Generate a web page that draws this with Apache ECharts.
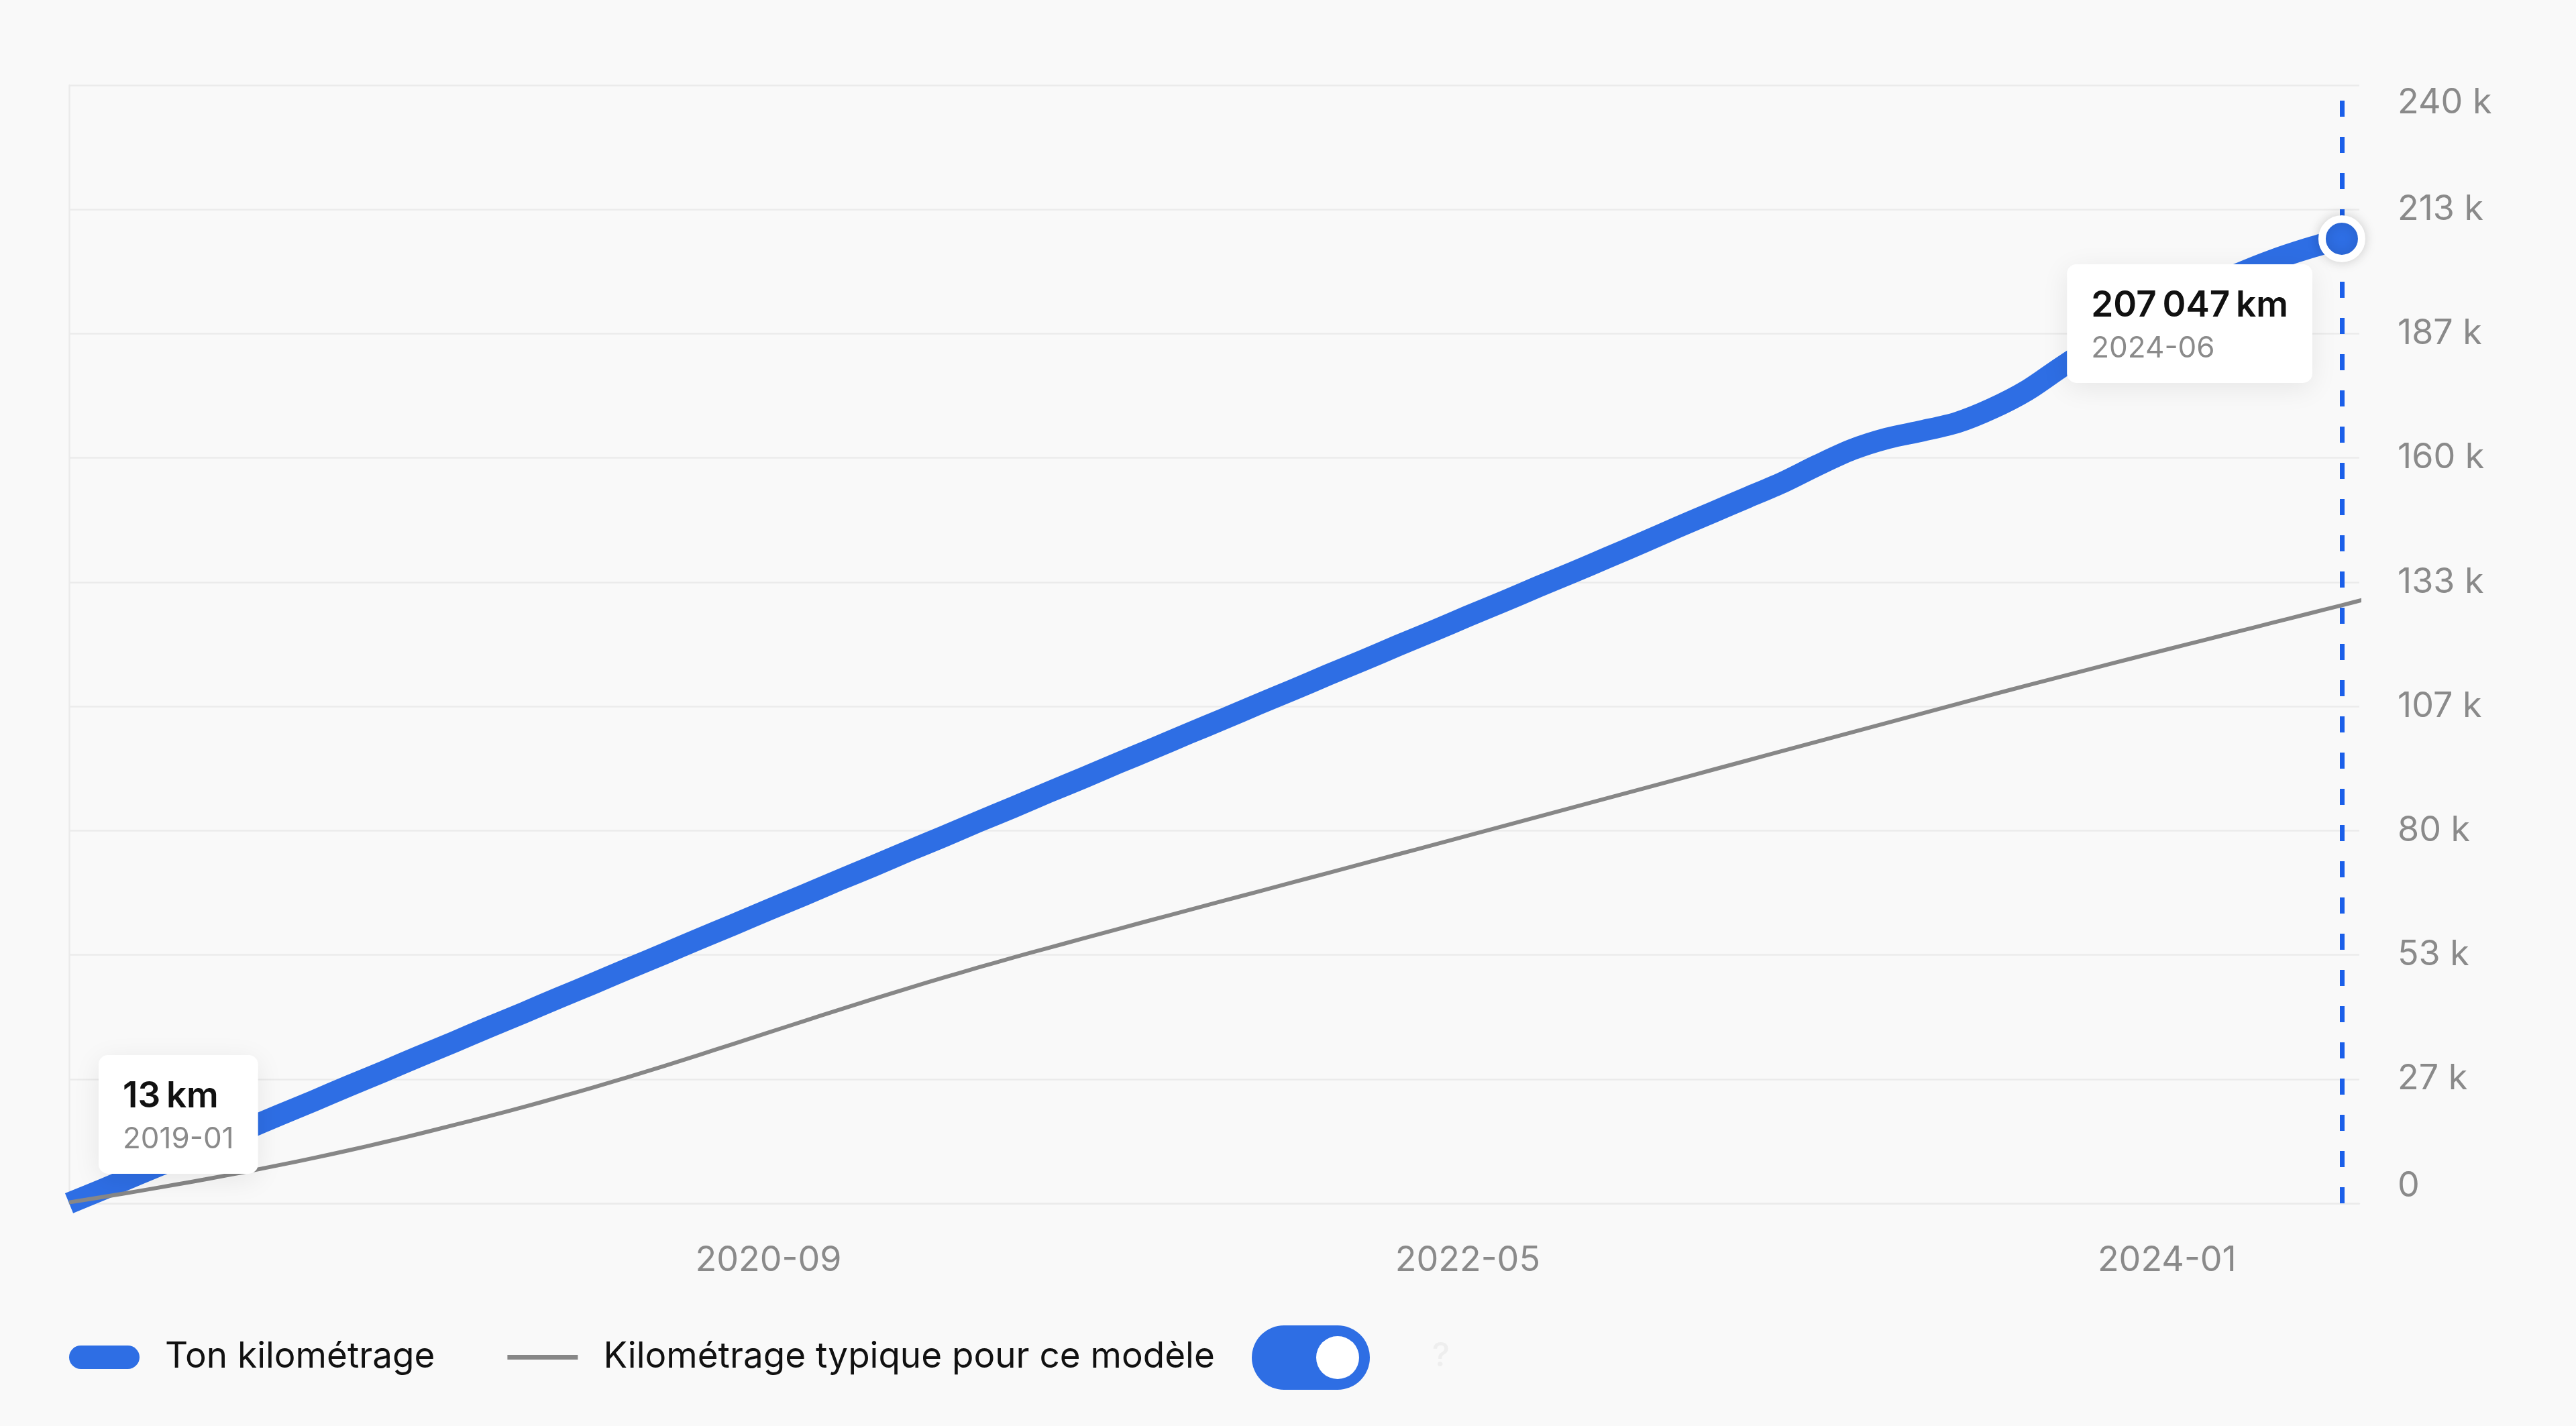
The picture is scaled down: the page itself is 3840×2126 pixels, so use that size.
<!DOCTYPE html>
<html>
<head>
<meta charset="utf-8">
<title>Kilométrage</title>
<script src="https://cdn.jsdelivr.net/npm/echarts@6/dist/echarts.min.js"></script>
<style>
  html, body { margin: 0; padding: 0; background: #f9f9f9; }
  #chart { width: 3840px; height: 2126px; }
</style>
</head>
<body>
<div id="chart"></div>
<script>
// mois (index 0 = 2019-01)
const months = [
  '2019-01', '2019-02', '2019-03', '2019-04', '2019-05', '2019-06', '2019-07', '2019-08', '2019-09', '2019-10', '2019-11', '2019-12',
  '2020-01', '2020-02', '2020-03', '2020-04', '2020-05', '2020-06', '2020-07', '2020-08', '2020-09', '2020-10', '2020-11', '2020-12',
  '2021-01', '2021-02', '2021-03', '2021-04', '2021-05', '2021-06', '2021-07', '2021-08', '2021-09', '2021-10', '2021-11', '2021-12',
  '2022-01', '2022-02', '2022-03', '2022-04', '2022-05', '2022-06', '2022-07', '2022-08', '2022-09', '2022-10', '2022-11', '2022-12',
  '2023-01', '2023-02', '2023-03', '2023-04', '2023-05', '2023-06', '2023-07', '2023-08', '2023-09', '2023-10', '2023-11', '2023-12',
  '2024-01', '2024-02', '2024-03', '2024-04', '2024-05', '2024-06', '2024-07'
];

// ton kilométrage (km), 2019-01 .. 2024-06
const myKm = [
  13, 3100, 6300, 9400, 12600, 15700, 18900, 22000, 25200, 28300, 31500, 34600,
  37800, 40900, 44100, 47200, 50400, 53500, 56700, 59800, 63000, 66100, 69300, 72400,
  75600, 78700, 81900, 85000, 88200, 91300, 94500, 97600, 100800, 103900, 107100, 110200,
  113400, 116500, 119700, 122800, 126000, 129100, 132300, 135400, 138600, 141800, 145100, 148300,
  151500, 154700, 158400, 161800, 164200, 165800, 167600, 170600, 174500, 179600, 184300, 188500,
  192400, 196000, 199400, 202400, 204900, 207047
];

// kilométrage typique pour ce modèle (km), 2019-01 .. 2024-07
const typicalKm = [
  200, 1400, 2650, 3950, 5300, 6700, 8180, 9740, 11380, 13100, 14900, 16780,
  18690, 20680, 22750, 24900, 27130, 29440, 31810, 34220, 36650, 39080, 41490, 43860,
  46170, 48420, 50610, 52740, 54810, 56840, 58880, 60900, 62900, 64900, 66900, 68900,
  70900, 72900, 74900, 76900, 78900, 80920, 82940, 84960, 86980, 89000, 91020, 93040,
  95060, 97080, 99100, 101120, 103140, 105160, 107180, 109180, 111160, 113120, 115060, 116980,
  118880, 120780, 122680, 124580, 126480, 128380, 130280
];

const xTickLabels = ['2020-09', '2022-05', '2024-01'];
const yMax = 240000;
const yStep = 26667; // 240 k / 9, arrondi

const seriesNames = ['Ton kilométrage', 'Kilométrage typique pour ce modèle'];

const BLUE = '#2e6ee4';
const DASH = '#1b5fe9';
const GREY = '#878787';
const FONT = 'Inter, "Noto Sans", sans-serif';

function fmtKm(v) {
  return Math.round(v).toLocaleString('fr-FR') + '\u202fkm';
}

const lastIdx = myKm.length - 1;

const chart = echarts.init(document.getElementById('chart'), null, { renderer: 'canvas' });

const boxLabel = {
  show: true,
  backgroundColor: '#ffffff',
  borderRadius: 14,
  padding: [29, 36, 20, 36],
  shadowBlur: 40,
  shadowColor: 'rgba(0,0,0,0.08)',
  shadowOffsetY: 8,
  opacity: 1,
  formatter: function (p) {
    return '{v|' + fmtKm(p.value[1]) + '}\n{d|' + months[p.value[0]] + '}';
  },
  rich: {
    v: { fontFamily: FONT, fontSize: 53, fontWeight: 600, color: '#111111', lineHeight: 66, align: 'left' },
    d: { fontFamily: FONT, fontSize: 44, color: '#8a8a8a', lineHeight: 62, align: 'left' }
  }
};

chart.setOption({
  backgroundColor: '#f9f9f9',
  animation: false,
  textStyle: { fontFamily: FONT },
  grid: { left: 103, right: 323, top: 127, bottom: 332 },
  xAxis: {
    type: 'value',
    min: 0,
    max: lastIdx + 0.5,
    interval: 20,
    axisLine: { show: true, lineStyle: { color: '#ebebeb', width: 2.5 } },
    axisTick: { show: false },
    splitLine: { show: false },
    axisLabel: {
      color: '#8a8a8a',
      fontSize: 52,
      fontFamily: FONT,
      margin: 59,
      showMinLabel: false,
      showMaxLabel: false,
      formatter: function (v) {
        const m = months[v];
        return xTickLabels.indexOf(m) >= 0 ? m : '';
      }
    }
  },
  yAxis: {
    type: 'value',
    position: 'right',
    min: 0,
    max: yMax,
    interval: yStep,
    axisLine: { show: true, lineStyle: { color: '#ebebeb', width: 2.5 } },
    axisTick: { show: false },
    splitLine: { show: true, lineStyle: { color: '#ebebeb', width: 2.5 } },
    axisLabel: {
      color: '#8a8a8a',
      fontSize: 52,
      fontFamily: FONT,
      margin: 57,
      verticalAlignMinLabel: 'bottom',
      verticalAlignMaxLabel: 'top',
      formatter: function (v) {
        return v === 0 ? '0' : Math.round(v / 1000) + ' k';
      }
    }
  },
  legend: {
    left: 103,
    top: 1997,
    padding: 0,
    itemWidth: 105,
    itemHeight: 35,
    itemGap: 108,
    selectedMode: false,
    textStyle: { color: '#111111', fontSize: 53, fontFamily: FONT, padding: [0, 0, 0, 33] },
    data: [
      {
        name: seriesNames[0],
        icon: 'path://M17.5,0 L87.5,0 A17.5,17.5 0 0 1 87.5,35 L17.5,35 A17.5,17.5 0 0 1 17.5,0 Z',
        itemStyle: { color: BLUE, borderWidth: 0 }
      },
      {
        name: seriesNames[1],
        icon: 'path://M0,0 L0,0 M0,35 L0,35 M0,14 L105,14 L105,21 L0,21 Z',
        itemStyle: { color: GREY, borderWidth: 0 }
      }
    ]
  },
  graphic: [
    {
      type: 'rect',
      shape: { x: 1866, y: 1976, width: 176, height: 96, r: 48 },
      style: { fill: BLUE }
    },
    {
      type: 'circle',
      shape: { cx: 1994, cy: 2024, r: 32 },
      style: { fill: '#ffffff' }
    },
    {
      type: 'text',
      x: 2148,
      y: 2022,
      style: { text: '?', fill: '#eeeeee', font: '500 50px ' + FONT, align: 'center', verticalAlign: 'middle' }
    }
  ],
  series: [
    {
      name: seriesNames[0],
      type: 'line',
      data: myKm.map(function (v, i) { return [i, v]; }),
      showSymbol: false,
      smooth: 0.3,
      z: 2,
      lineStyle: { color: BLUE, width: 32, join: 'round', cap: 'butt' },
      itemStyle: { color: BLUE },
      emphasis: { disabled: true }
    },
    {
      name: seriesNames[1],
      type: 'line',
      data: typicalKm.map(function (v, i) { return [i, v]; }),
      showSymbol: false,
      smooth: 0.4,
      z: 3,
      lineStyle: { color: GREY, width: 6, join: 'round' },
      itemStyle: { color: GREY },
      emphasis: { disabled: true }
    },
    {
      // point courant + ligne verticale pointillée
      type: 'scatter',
      data: [[lastIdx, myKm[lastIdx]]],
      symbol: 'circle',
      symbolSize: 59,
      clip: false,
      silent: true,
      z: 5,
      itemStyle: {
        color: BLUE,
        opacity: 1,
        borderColor: '#ffffff',
        borderWidth: 11,
        shadowBlur: 18,
        shadowColor: 'rgba(0,0,0,0.15)'
      },
      markLine: {
        silent: true,
        symbol: 'none',
        label: { show: false },
        lineStyle: { color: DASH, width: 7, type: [24, 30], opacity: 1 },
        data: [{ xAxis: lastIdx }]
      }
    },
    {
      // étiquettes début / fin
      type: 'scatter',
      symbolSize: 0,
      clip: false,
      silent: true,
      z: 10,
      itemStyle: { opacity: 1 },
      data: [
        {
          value: [0, myKm[0]],
          label: Object.assign({}, boxLabel, { position: [44, -44], align: 'left', verticalAlign: 'bottom' })
        },
        {
          value: [lastIdx, myKm[lastIdx]],
          label: Object.assign({}, boxLabel, { position: [-44, 38], align: 'right', verticalAlign: 'top' })
        }
      ]
    }
  ]
});
</script>
</body>
</html>
